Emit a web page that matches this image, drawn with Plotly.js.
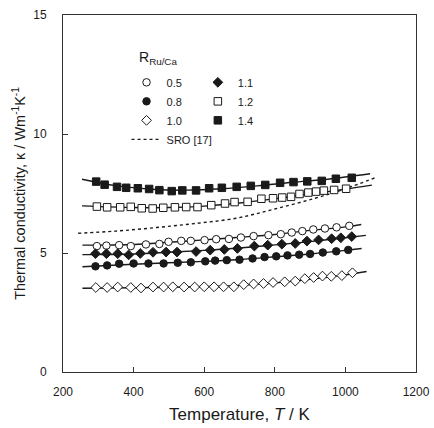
<!DOCTYPE html>
<html>
<head>
<meta charset="utf-8">
<script src="https://cdn.plot.ly/plotly-3.0.1.min.js"></script>
<style>html,body{margin:0;padding:0;background:#fff;}#chart{width:434px;height:428px;}</style>
</head>
<body>
<div id="chart"></div>
<script>
// ---- Measured data (T in K, kappa in W m^-1 K^-1) ----
const T_05 = [296,323,359,392,435,473,499,535,562,601,634,670,704,740,782,817,848,878,909,942,975,1011];
const K_05 = [5.29,5.31,5.33,5.29,5.36,5.38,5.47,5.51,5.51,5.54,5.58,5.59,5.65,5.71,5.75,5.79,5.86,5.92,5.99,6.03,6.08,6.14];

const T_08 = [292,325,359,400,442,485,525,562,603,631,664,700,737,771,804,836,869,900,936,974,1008];
const K_08 = [4.44,4.48,4.55,4.56,4.56,4.56,4.59,4.61,4.65,4.68,4.70,4.72,4.77,4.83,4.86,4.90,4.93,4.96,5.02,5.07,5.13];

const T_10 = [293,325,355,392,421,455,485,511,543,573,600,628,655,684,712,740,768,795,828,858,885,910,935,960,990,1020];
const K_10 = [3.55,3.55,3.57,3.55,3.53,3.57,3.57,3.58,3.57,3.57,3.58,3.58,3.58,3.58,3.67,3.70,3.72,3.76,3.79,3.82,3.92,3.97,4.03,4.02,4.05,4.17];

const T_11 = [292,323,355,386,419,455,492,523,577,617,657,694,742,780,820,858,891,924,961,987,1018];
const K_11 = [4.97,4.97,4.97,4.92,4.98,5.03,5.04,5.04,5.06,5.12,5.15,5.19,5.29,5.33,5.37,5.40,5.50,5.55,5.60,5.64,5.69];

const T_12 = [296,325,362,392,423,454,484,517,549,581,620,659,686,723,762,795,821,846,870,895,917,939,968,1002];
const K_12 = [6.95,6.92,6.92,6.94,6.88,6.87,6.90,6.92,6.93,6.93,7.01,7.08,7.14,7.15,7.28,7.30,7.33,7.36,7.48,7.54,7.58,7.62,7.65,7.70];

const T_14 = [294,318,353,379,412,444,473,508,538,577,614,650,692,732,773,815,853,892,933,973,1018];
const K_14 = [8.00,7.87,7.78,7.74,7.72,7.69,7.64,7.60,7.63,7.63,7.72,7.74,7.78,7.82,7.86,7.95,7.98,8.01,8.03,8.12,8.16];

// ---- Fitted curves ----
const FT_05 = [255,400,500,600,700,800,900,1000,1045];
const FK_05 = [5.33,5.36,5.45,5.55,5.66,5.78,5.95,6.10,6.20];
const FT_08 = [255,400,500,600,700,800,900,1000,1046];
const FK_08 = [4.42,4.53,4.59,4.65,4.73,4.84,4.96,5.11,5.19];
const FT_10 = [255,400,500,600,700,800,900,1000,1060];
const FK_10 = [3.52,3.54,3.56,3.59,3.64,3.74,3.89,4.08,4.22];
const FT_11 = [255,400,500,600,700,800,900,1000,1058];
const FK_11 = [4.93,4.96,5.03,5.11,5.21,5.34,5.48,5.64,5.74];
const FT_12 = [254,400,500,600,700,800,900,1000,1075];
const FK_12 = [6.98,6.91,6.91,6.97,7.10,7.28,7.48,7.68,7.85];
const FT_14 = [254,350,450,550,650,750,850,950,1070];
const FK_14 = [8.10,7.83,7.68,7.64,7.70,7.82,7.97,8.10,8.33];

// ---- SRO reference curve [17] ----
const T_SRO = [243,350,465,580,690,800,914,1000,1084];
const K_SRO = [5.83,5.92,6.07,6.25,6.46,6.85,7.30,7.70,8.16];

const xTicks = [200,400,600,800,1000,1200];
const yTicks = [0,5,10,15];
const legendTitle = 'R<sub>Ru/Ca</sub>';

const FONT = 'Liberation Sans, Arial, sans-serif';
const INK = '#1a1a1a';

function fit(x, y) {
  return {x: x, y: y, mode: 'lines', type: 'scatter', showlegend: false, hoverinfo: 'skip',
          line: {color: INK, width: 1.4, shape: 'spline', smoothing: 1}};
}
function pts(x, y, name, symbol, filled, legend) {
  return {x: x, y: y, mode: 'markers', type: 'scatter', name: name, legend: legend,
          marker: {symbol: symbol, size: 7.5, color: filled ? INK : '#ffffff',
                   line: {color: INK, width: 1}}};
}

const data = [
  fit(FT_05, FK_05), fit(FT_08, FK_08), fit(FT_10, FK_10),
  fit(FT_11, FK_11), fit(FT_12, FK_12), fit(FT_14, FK_14),
  pts(T_05, K_05, '0.5', 'circle', false, 'legend'),
  pts(T_08, K_08, '0.8', 'circle', true, 'legend'),
  pts(T_10, K_10, '1.0', 'diamond', false, 'legend'),
  {x: T_SRO, y: K_SRO, mode: 'lines', type: 'scatter', name: 'SRO [17]', legend: 'legend',
   line: {color: INK, width: 1.4, dash: '3px,3px', shape: 'spline'}},
  pts(T_11, K_11, '1.1', 'diamond', true, 'legend2'),
  pts(T_12, K_12, '1.2', 'square', false, 'legend2'),
  pts(T_14, K_14, '1.4', 'square', true, 'legend2')
];

const axisBase = {
  showgrid: false, zeroline: false, ticks: 'inside', ticklen: 5, tickwidth: 1,
  tickcolor: '#333', linecolor: '#333', linewidth: 1, mirror: true,
  tickfont: {family: FONT, size: 12, color: INK}
};

const legendBase = {
  xanchor: 'left', yanchor: 'top', bgcolor: 'rgba(0,0,0,0)', borderwidth: 0,
  font: {family: FONT, size: 11, color: INK}, itemwidth: 30, tracegroupgap: 0,
  orientation: 'v'
};

const layout = {
  width: 434, height: 428,
  margin: {l: 63, r: 18, t: 15, b: 56},
  paper_bgcolor: '#ffffff', plot_bgcolor: '#ffffff',
  font: {family: FONT, color: INK},
  showlegend: true,
  xaxis: Object.assign({}, axisBase, {
    range: [200, 1200], tickvals: xTicks, ticktext: xTicks.map(String), ticklabelstandoff: 9,
    title: {text: 'Temperature, <i>T</i> / K', font: {family: FONT, size: 17, color: INK}, standoff: 9}
  }),
  yaxis: Object.assign({}, axisBase, {
    range: [0, 15], tickvals: yTicks, ticktext: yTicks.map(String), ticklabelstandoff: 13,
    title: {text: 'Thermal conductivity, κ / Wm<sup>-1</sup>K<sup>-1</sup>', font: {family: FONT, size: 14.5, color: INK}, standoff: 4}
  }),
  legend: Object.assign({}, legendBase, {x: 0.18, y: 0.852}),
  legend2: Object.assign({}, legendBase, {x: 0.382, y: 0.852}),
  annotations: [{
    text: legendTitle, xref: 'paper', yref: 'paper', x: 0.21, y: 0.88,
    xanchor: 'left', yanchor: 'middle', showarrow: false,
    font: {family: FONT, size: 14, color: INK}
  }]
};

Plotly.newPlot('chart', data, layout, {displayModeBar: false, staticPlot: true});
</script>
</body>
</html>
